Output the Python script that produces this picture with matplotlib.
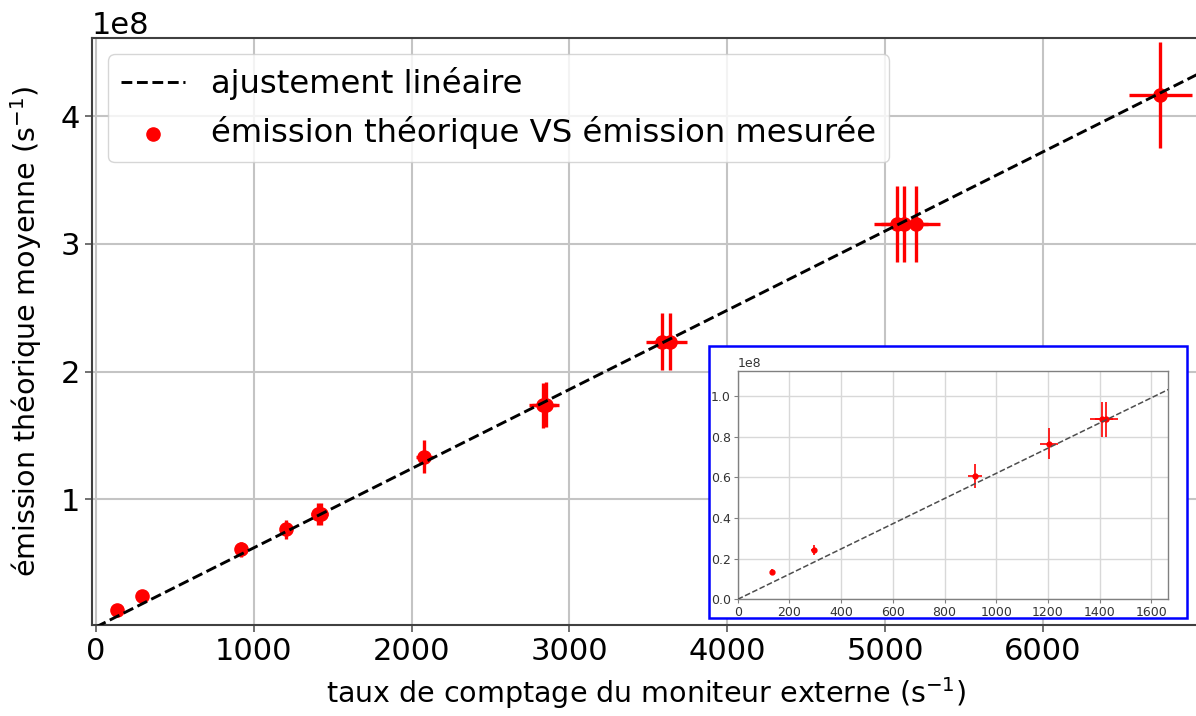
import matplotlib
matplotlib.use('Agg')
import matplotlib.pyplot as plt
from matplotlib.patches import Rectangle
import numpy as np

# taux de comptage du moniteur externe (s^-1)
count_rate = [134, 294, 917, 1204, 1408, 1425, 2080, 2830, 2850,
              3585, 3640, 5078, 5122, 5196, 6743]
count_err = [4, 9, 27, 36, 45, 45, 55, 85, 85,
             100, 105, 150, 150, 150, 200]
# émission théorique moyenne (s^-1)
emission = [0.136e8, 0.243e8, 0.607e8, 0.766e8, 0.885e8, 0.885e8, 1.334e8,
            1.735e8, 1.740e8, 2.234e8, 2.234e8, 3.156e8, 3.156e8, 3.156e8,
            4.166e8]
emission_err = [0.014e8, 0.023e8, 0.060e8, 0.075e8, 0.085e8, 0.085e8, 0.130e8,
                0.176e8, 0.176e8, 0.225e8, 0.225e8, 0.300e8, 0.300e8, 0.300e8,
                0.415e8]

# ajustement linéaire
fit_slope = 6.2e4
fit_intercept = 0.0

W, H = 1196, 716


def draw_main(fig):
    ax = fig.add_axes([92 / W, 1 - 625 / H, 1108 / W, 587 / H])
    ax.errorbar(count_rate, emission, xerr=count_err, yerr=emission_err,
                fmt='none', ecolor='red', elinewidth=2.4, zorder=2)
    pts = ax.scatter(count_rate, emission, s=90, color='red', zorder=3,
                     label='émission théorique VS émission mesurée')
    x_fit = np.array([0, 7000])
    line, = ax.plot(x_fit, fit_slope * x_fit + fit_intercept, 'k--', lw=2.1,
                    zorder=4, label='ajustement linéaire')
    ax.set_xlim(-25, 6996)
    ax.set_ylim(0.0157e8, 4.612e8)
    ax.set_xticks([0, 1000, 2000, 3000, 4000, 5000, 6000])
    ax.set_yticks([1e8, 2e8, 3e8, 4e8])
    ax.grid(True, color='#c4c4c4', lw=1.5)
    ax.set_axisbelow(True)
    for s in ax.spines.values():
        s.set_color('0.25')
        s.set_linewidth(1.5)
    ax.tick_params(labelsize=22, length=5, width=1.2, color='0.35')
    ax.yaxis.get_offset_text().set_fontsize(22)
    ax.set_xlabel('taux de comptage du moniteur externe (s$^{-1}$)',
                  fontsize=20.5, labelpad=7)
    ax.set_ylabel('émission théorique moyenne (s$^{-1}$)', fontsize=20.5,
                  labelpad=12)
    ax.legend(handles=[line, pts], loc='upper left', fontsize=23.2)
    return ax


def draw_inset(fig):
    # blue frame around the zoom
    fig.patches.append(Rectangle((709 / W, 1 - 618 / H), 478 / W, 272 / H,
                                 transform=fig.transFigure, facecolor='white',
                                 edgecolor='blue', lw=1.8, zorder=5))
    ax = fig.add_axes([737.7 / W, 1 - 599.3 / H, 430.6 / W, 228.6 / H])
    ax.set_zorder(6)
    ax.errorbar(count_rate, emission, xerr=count_err, yerr=emission_err,
                fmt='o', color='red', ms=3.5, elinewidth=1.2, zorder=2)
    x_fit = np.array([0, 1700])
    ax.plot(x_fit, fit_slope * x_fit + fit_intercept, '--', color='0.3',
            lw=1.1, zorder=3)
    ax.set_xlim(0, 1665)
    ax.set_ylim(0, 1.125e8)
    ax.set_xticks([0, 200, 400, 600, 800, 1000, 1200, 1400, 1600])
    ax.set_yticks([0, 0.2e8, 0.4e8, 0.6e8, 0.8e8, 1.0e8])
    ax.grid(True, color='#d8d8d8', lw=1)
    for s in ax.spines.values():
        s.set_color('0.5')
        s.set_linewidth(1)
    ax.tick_params(labelsize=9, length=3, color='0.5', pad=2,
                   labelcolor='0.2')
    ax.yaxis.get_offset_text().set_fontsize(9)
    ax.yaxis.get_offset_text().set_color('0.2')
    return ax


def main():
    fig = plt.figure(figsize=(W / 100, H / 100), dpi=100)
    draw_main(fig)
    draw_inset(fig)
    fig.savefig('out.png', dpi=100)


if __name__ == '__main__':
    main()
